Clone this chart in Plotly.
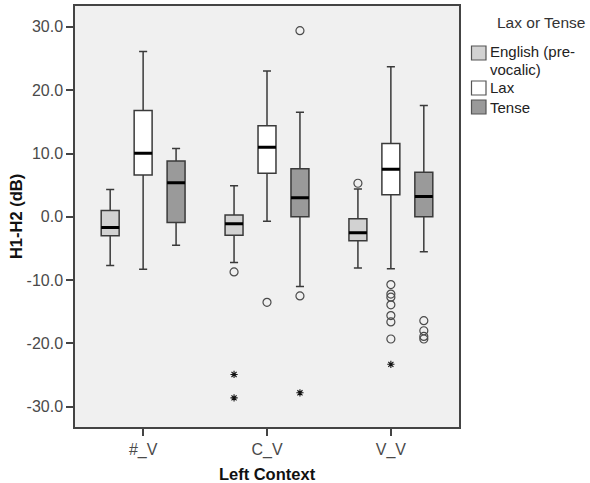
import plotly.graph_objects as go

categories = ["#_V", "C_V", "V_V"]
groups = ["English (pre-vocalic)", "Lax", "Tense"]
legend_lines = [["English (pre-", "vocalic)"], ["Lax"], ["Tense"]]
legend_title = "Lax or Tense"
y_ticks = [-30, -20, -10, 0, 10, 20, 30]
y_tick_labels = ["-30.0", "-20.0", "-10.0", "0.0", "10.0", "20.0", "30.0"]

english_lower = [-7.7, -7.2, -8.1]
english_q1 = [-3.0, -2.9, -3.8]
english_median = [-1.7, -1.1, -2.5]
english_q3 = [1.0, 0.3, -0.3]
english_upper = [4.3, 4.9, 4.4]

lax_lower = [-8.3, -0.7, -8.2]
lax_q1 = [6.6, 6.9, 3.5]
lax_median = [10.05, 11.0, 7.5]
lax_q3 = [16.8, 14.4, 11.6]
lax_upper = [26.1, 23.05, 23.7]

tense_lower = [-4.5, -11.0, -5.5]
tense_q1 = [-0.9, 0.0, 0.0]
tense_median = [5.4, 3.0, 3.2]
tense_q3 = [8.8, 7.6, 7.05]
tense_upper = [10.8, 16.5, 17.6]

# outliers (circles) per category
english_outliers = [[], [-8.7], [5.3]]
lax_outliers = [[], [-13.5], [-10.7, -12.2, -12.7, -13.9, -15.6, -16.6, -19.3]]
tense_outliers = [[], [29.4, -12.5], [-16.4, -18.0, -18.9, -19.3]]

# extremes (stars) per category
english_extremes = [[], [-24.9, -28.6], []]
lax_extremes = [[], [], [-23.3]]
tense_extremes = [[], [-27.8], []]

fills = ["#d2d2d2", "#ffffff", "#9a9a9a"]
offsets = [-0.266, 0.0, 0.266]
box_w = 0.145

stats = [
    (english_lower, english_q1, english_median, english_q3, english_upper, english_outliers, english_extremes),
    (lax_lower, lax_q1, lax_median, lax_q3, lax_upper, lax_outliers, lax_extremes),
    (tense_lower, tense_q1, tense_median, tense_q3, tense_upper, tense_outliers, tense_extremes),
]

W, H = 590, 483
ML, MR, MT, MB = 75, 131, 6, 56
PW, PH = W - ML - MR, H - MT - MB


def px(x):
    return (x - ML) / PW


def py(y):
    return 1 - (y - MT) / PH


fig = go.Figure()
for gi, (lo, q1, med, q3, up, outl, extr) in enumerate(stats):
    xs = [i + offsets[gi] for i in range(len(categories))]
    fig.add_trace(go.Box(
        x=xs, q1=q1, median=med, q3=q3, lowerfence=lo, upperfence=up,
        width=box_w, whiskerwidth=0.45, name=groups[gi],
        fillcolor=fills[gi], line=dict(color="#3a3a3a", width=1.5),
        boxpoints=False, hoverinfo="skip", showlegend=False,
    ))
    # thicker black median line
    fig.add_trace(go.Box(
        x=xs, q1=med, median=med, q3=med, lowerfence=med, upperfence=med,
        width=box_w, whiskerwidth=0, fillcolor="rgba(0,0,0,0)",
        line=dict(color="#000000", width=3), boxpoints=False,
        showlegend=False, hoverinfo="skip",
    ))
    ox, oy, ex, ey = [], [], [], []
    for ci in range(len(categories)):
        for v in outl[ci]:
            ox.append(ci + offsets[gi]); oy.append(v)
        for v in extr[ci]:
            ex.append(ci + offsets[gi]); ey.append(v)
    fig.add_trace(go.Scatter(
        x=ox, y=oy, mode="markers", showlegend=False, hoverinfo="skip",
        marker=dict(symbol="circle-open", size=8, color="#4a4a4a", line=dict(width=1.2)),
    ))
    fig.add_trace(go.Scatter(
        x=ex, y=ey, mode="markers", showlegend=False, hoverinfo="skip",
        marker=dict(symbol="asterisk-open", size=6, color="#111111", line=dict(width=1.1)),
    ))

# manual legend (SPSS style)
font_family = "Liberation Sans, Arial, sans-serif"
annotations = [dict(
    text=legend_title, xref="paper", yref="paper", x=px(541), y=py(22),
    xanchor="center", yanchor="middle", showarrow=False,
    font=dict(family=font_family, size=15.5, color="#333333"),
)]
shapes = []
swatch_tops = [46, 81, 100]
line_centers = [[51, 69], [88], [107]]
for gi in range(len(groups)):
    t = swatch_tops[gi]
    shapes.append(dict(
        type="rect", xref="paper", yref="paper",
        x0=px(471.5), x1=px(486), y0=py(t), y1=py(t + 14),
        fillcolor=fills[gi], line=dict(color="#555555", width=1.2),
    ))
    for li, txt in enumerate(legend_lines[gi]):
        annotations.append(dict(
            text=txt, xref="paper", yref="paper", x=px(488), y=py(line_centers[gi][li]),
            xanchor="left", yanchor="middle", showarrow=False,
            font=dict(family=font_family, size=15, color="#222222"),
        ))

fig.update_layout(
    width=W, height=H,
    margin=dict(l=ML, r=MR, t=MT, b=MB, autoexpand=False),
    paper_bgcolor="#ffffff", plot_bgcolor="#f0f0f0",
    boxmode="overlay", showlegend=False,
    font=dict(family=font_family, size=16, color="#4a4a4a"),
    annotations=annotations, shapes=shapes,
    xaxis=dict(
        range=[-0.55, 2.55], tickvals=[0, 1, 2], ticktext=categories,
        showgrid=False, zeroline=False, showline=True, mirror=True,
        linecolor="#444444", linewidth=1.5, ticks="outside", ticklen=7,
        tickcolor="#444444", tickwidth=1.5, automargin=False,
        title=dict(text="<b>Left Context</b>", font=dict(size=16.5, color="#111111"), standoff=15),
    ),
    yaxis=dict(
        range=[-33.2, 33.3], tickvals=y_ticks, ticktext=y_tick_labels,
        showgrid=False, zeroline=False, showline=True, mirror=True,
        linecolor="#444444", linewidth=1.5, ticks="outside", ticklen=7,
        tickcolor="#444444", tickwidth=1.5, automargin=False,
        title=dict(text="<b>H1-H2 (dB)</b>", font=dict(size=16.5, color="#111111"), standoff=0),
    ),
)

fig.write_html("out.html")
